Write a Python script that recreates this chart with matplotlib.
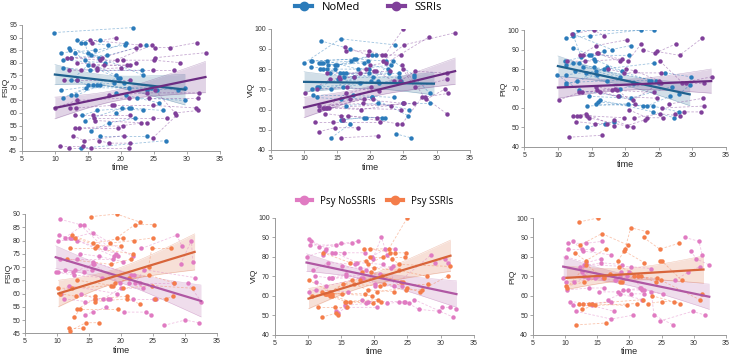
import numpy as np
import matplotlib
matplotlib.use("Agg")
from matplotlib import pyplot as plt

plt.rcParams["font.family"] = ["Liberation Sans", "DejaVu Sans"]

# ---- subject trajectories: lists of (time, score) ----
nomed_fsiq = [
    [(9.9, 92), (21.9, 94)], [(11.0, 84), (16.1, 85), (20.6, 87)], [(11.2, 81), (17.6, 80)],
    [(11.2, 78), (15.3, 77), (23.2, 77)], [(11.0, 69), (16.4, 71), (25.4, 69)],
    [(11.2, 66), (14.7, 70), (24.5, 70)], [(12.2, 86), (16.7, 82), (23.8, 87)],
    [(12.3, 85), (15.5, 83), (20.7, 88)], [(12.4, 82), (17.9, 83)], [(13.4, 89), (16.9, 89)],
    [(14.0, 88), (18.0, 87)], [(14.5, 88), (15.0, 84), (23.4, 75)], [(13.0, 84), (14.5, 81), (19.2, 75)],
    [(12.5, 73), (15.0, 79), (19.5, 74)], [(13.3, 73), (15.0, 71), (19.8, 74)],
    [(12.5, 67), (15.8, 71), (18.9, 72)], [(13.2, 67), (16.9, 71), (21.2, 70)],
    [(14.1, 59), (16.4, 61), (21.5, 62)], [(14.5, 57), (20.2, 62), (23.4, 61)],
    [(15.5, 53), (18.2, 56), (22.2, 58)], [(16.9, 51), (23.9, 51)], [(14.0, 46), (26.8, 49)],
    [(19.2, 60), (21.2, 62), (26.3, 61)], [(19.2, 68), (20.8, 67), (25.8, 64)],
    [(20.5, 72), (28.7, 69)], [(22.5, 66), (29.7, 65)], [(24.0, 69), (29.7, 70)],
]
ssri_fsiq = [
    [(10.0, 62), (13.3, 65), (21.2, 66)], [(11.4, 73), (13.3, 73), (21.4, 73)], [(10.8, 47), (14.2, 47)],
    [(12.2, 46), (15.4, 46), (21.2, 46)], [(12.3, 62), (13.2, 62), (18.6, 63)],
    [(12.7, 51), (14.4, 49), (20.4, 51)], [(13.0, 54), (19.6, 54)], [(13.7, 54), (20.3, 55), (23.1, 56)],
    [(13.0, 59), (15.7, 59), (21.3, 59)], [(11.9, 82), (16.9, 81), (20.3, 81)],
    [(12.5, 82), (17.2, 82), (22.3, 86)], [(12.2, 77), (14.0, 77), (20.0, 78)],
    [(13.3, 80), (17.4, 79), (20.9, 79)], [(15.3, 89), (22.9, 87)], [(15.6, 88), (19.3, 90)],
    [(15.8, 79), (21.4, 79), (22.3, 80)], [(16.4, 78), (24.7, 87)], [(16.3, 77), (24.8, 77), (28.0, 77)],
    [(15.9, 58), (24.9, 58), (26.9, 58)], [(16.1, 57), (23.9, 56)], [(16.7, 49), (18.2, 48), (21.4, 48)],
    [(18.2, 67), (24.0, 68), (31.8, 68)], [(18.9, 63), (24.9, 63), (31.4, 62)],
    [(19.4, 81), (25.0, 81), (29.0, 80)], [(24.3, 66), (31.7, 66)], [(25.1, 86), (27.4, 86), (31.5, 88)],
    [(25.2, 82), (32.9, 84)], [(24.8, 50), (28.4, 59)], [(25.2, 69), (28.2, 60), (31.7, 61)],
]
nomed_viq = [
    [(10.0, 83), (15.5, 95), (23.7, 92)], [(11.1, 84), (17.6, 85), (22.3, 84)], [(11.2, 84), (17.9, 85)],
    [(11.1, 81), (14.6, 80), (19.8, 80)], [(11.2, 70), (15.9, 71), (21.1, 74)],
    [(11.3, 67), (17.4, 67), (23.6, 66)], [(12.5, 94), (16.9, 90)], [(12.3, 83), (14.6, 82), (19.6, 84)],
    [(12.6, 83), (14.9, 82), (20.2, 87)], [(12.9, 83), (17.1, 84), (20.9, 87)],
    [(12.4, 80), (15.4, 78), (19.8, 78)], [(12.8, 80), (15.9, 78), (20.4, 76)],
    [(12.0, 71), (15.1, 75), (21.3, 73)], [(12.2, 71), (18.4, 73), (24.6, 74)],
    [(12.0, 66), (15.6, 65), (20.2, 66)], [(13.5, 84), (18.1, 80), (23.1, 82)],
    [(13.6, 82), (19.1, 83), (22.6, 80)], [(13.4, 80), (16.4, 78), (22.8, 78)],
    [(13.9, 78), (16.1, 76), (24.3, 78)], [(14.1, 70), (17.6, 76), (24.3, 76)],
    [(15.5, 55), (19.1, 56), (21.7, 56)], [(15.8, 55), (19.4, 56), (22.2, 56)], [(14.1, 46), (17.0, 53)],
    [(23.8, 48), (26.2, 46)], [(16.3, 62), (21.2, 63), (25.8, 60)], [(20.1, 74), (23.4, 84), (26.6, 77)],
    [(20.2, 66), (25.7, 57)], [(26.6, 76), (29.0, 68)], [(25.0, 63), (29.0, 63)],
]
ssri_viq = [
    [(10.2, 68), (13.9, 75), (17.6, 76)], [(12.0, 70), (16.5, 71), (21.3, 69)],
    [(11.6, 54), (14.4, 54), (21.5, 54)], [(12.2, 49), (14.6, 51), (18.1, 51)],
    [(12.3, 60), (16.9, 65), (20.4, 65)], [(12.3, 62), (18.9, 63), (23.1, 62)],
    [(12.8, 61), (18.6, 60), (25.0, 63)], [(13.0, 61), (19.1, 65), (25.1, 63)],
    [(13.3, 61), (16.4, 68), (20.1, 71)], [(13.5, 61), (24.6, 60)], [(13.8, 61), (26.6, 63)],
    [(13.5, 78), (18.4, 78), (22.9, 79)], [(13.2, 58), (15.6, 57), (21.0, 56)], [(15.5, 46), (21.1, 47)],
    [(15.9, 55), (16.6, 57), (24.1, 53)], [(15.3, 76), (19.4, 80), (20.6, 79)],
    [(15.4, 75), (20.9, 79), (23.5, 74)], [(16.2, 91), (19.6, 87), (24.6, 87)],
    [(16.4, 89), (19.8, 89), (21.8, 87)], [(19.9, 82), (22.4, 83), (28.9, 96)],
    [(21.9, 84), (25.1, 92), (32.8, 98)], [(22.2, 87), (25.0, 100)], [(24.5, 74), (26.7, 79), (31.6, 78)],
    [(24.8, 53), (27.8, 66), (31.8, 68)], [(24.9, 80), (26.7, 71), (31.6, 75)],
    [(24.8, 82), (28.4, 65), (31.2, 70)], [(28.2, 66), (31.5, 58)],
]
nomed_piq = [
    [(9.9, 77), (13.2, 69), (19.1, 66)], [(11.1, 84), (14.6, 87), (20.6, 87)],
    [(11.2, 82), (15.3, 85), (19.6, 79)], [(11.2, 77), (15.7, 79), (21.1, 73)],
    [(11.2, 73), (17.3, 74), (23.5, 74)], [(11.2, 72), (15.8, 77), (21.3, 73)],
    [(11.2, 96), (14.8, 97), (22.3, 100)], [(12.2, 83), (16.8, 80), (24.3, 83)],
    [(12.2, 98), (18.0, 90), (20.8, 92)], [(12.3, 97), (13.5, 86), (16.9, 89)],
    [(12.2, 91), (14.9, 87), (15.5, 84)], [(12.6, 79), (15.3, 81), (19.3, 76)],
    [(12.8, 74), (17.3, 81), (23.9, 74)], [(13.1, 83), (13.8, 81), (24.6, 74)], [(13.0, 100), (24.3, 100)],
    [(14.2, 78), (19.2, 70), (25.1, 73)], [(14.3, 61), (20.4, 62), (22.6, 61)],
    [(14.6, 66), (20.9, 65), (27.0, 71)], [(14.3, 50), (17.0, 52), (18.3, 53)],
    [(15.6, 62), (23.2, 61), (26.7, 66)], [(16.0, 63), (24.1, 61), (28.0, 58)],
    [(16.3, 64), (24.2, 58), (27.3, 55)], [(25.9, 78), (29.8, 76)], [(28.0, 67), (29.7, 72)],
]
ssri_piq = [
    [(10.1, 64), (13.2, 68), (18.0, 69)], [(11.4, 84), (14.1, 84), (19.6, 85)], [(11.6, 45), (16.5, 46)],
    [(12.1, 98), (15.3, 100), (16.9, 97)], [(12.2, 56), (14.3, 56), (19.8, 55)],
    [(12.7, 53), (15.5, 52), (17.3, 52)], [(12.9, 56), (14.2, 57), (18.3, 51)],
    [(13.3, 56), (14.6, 55), (21.2, 50)], [(13.6, 68), (18.5, 70), (21.5, 62)],
    [(13.3, 87), (15.7, 92), (20.3, 95)], [(13.8, 87), (15.8, 88), (19.3, 84)],
    [(15.6, 71), (18.8, 69), (24.3, 68)], [(15.8, 69), (18.9, 66), (24.8, 65)],
    [(16.2, 68), (21.1, 64), (25.3, 73)], [(16.0, 88), (20.4, 84), (22.4, 93)],
    [(17.5, 80), (19.8, 78), (25.3, 78)], [(18.3, 54), (20.3, 51), (23.0, 54)],
    [(20.2, 80), (21.5, 79), (25.0, 74)], [(20.6, 59), (23.3, 55), (25.6, 55)],
    [(21.3, 55), (25.2, 57), (28.2, 56)], [(22.7, 90), (24.4, 88), (27.6, 93)],
    [(24.7, 89), (28.1, 87), (31.5, 96)], [(25.2, 84), (28.5, 73), (32.9, 76)],
    [(27.4, 57), (28.7, 58), (31.3, 58)], [(29.0, 73), (31.8, 73)], [(26.5, 62), (31.6, 65)],
    [(25.5, 60), (31.7, 61)],
]
nossri_fsiq = [
    [(9.8, 68), (12.5, 68), (15.6, 71)], [(10.1, 68), (12.6, 67), (17.0, 66)],
    [(10.1, 80), (13.2, 80), (18.9, 74)], [(10.3, 82), (12.0, 81), (19.2, 75)],
    [(10.5, 88), (13.6, 86), (17.5, 77)], [(10.5, 73), (13.1, 73), (18.7, 73)],
    [(10.6, 60), (11.8, 63), (19.3, 60)], [(11.2, 81), (14.2, 86), (19.6, 74)],
    [(11.1, 58), (14.4, 57), (18.0, 58)], [(11.3, 69), (12.8, 69), (15.4, 69)],
    [(12.4, 81), (15.6, 83), (21.8, 74)], [(13.6, 75), (16.6, 74), (20.3, 72)],
    [(13.8, 60), (16.0, 58), (18.3, 58)], [(14.2, 68), (15.7, 72), (21.6, 67)],
    [(14.4, 52), (15.6, 53), (17.7, 55)], [(15.8, 71), (19.8, 64), (22.0, 67)],
    [(17.2, 58), (20.0, 62), (23.5, 62)], [(20.4, 53), (23.9, 53), (24.7, 52)],
    [(21.2, 64), (22.9, 64), (28.3, 64)], [(21.8, 58), (25.1, 58), (25.4, 58)],
    [(22.2, 64), (23.6, 69), (31.6, 66)], [(23.2, 77), (28.7, 82), (29.5, 78)],
    [(26.7, 48), (30.0, 50), (32.2, 49)], [(29.3, 71), (31.0, 80), (31.2, 72)], [(30.5, 64), (32.5, 57)],
]
pssri_fsiq = [
    [(10.2, 62), (12.4, 62), (18.4, 63)], [(10.4, 60), (12.9, 59), (16.0, 59)],
    [(11.5, 73), (18.4, 71), (21.6, 73)], [(11.8, 47), (14.1, 47)], [(12.1, 46), (14.5, 49), (16.6, 49)],
    [(12.1, 77), (16.0, 77), (21.8, 75)], [(12.3, 82), (15.7, 79), (20.3, 81)],
    [(12.6, 51), (13.6, 54), (19.6, 54)], [(12.8, 81), (16.3, 78), (20.0, 78)],
    [(13.1, 54), (15.9, 58), (21.0, 59)], [(13.2, 65), (18.8, 63), (21.2, 66)],
    [(15.3, 89), (19.3, 90), (22.9, 87)], [(16.0, 57), (21.0, 58), (23.0, 56)],
    [(18.3, 79), (22.0, 80), (25.0, 81)], [(19.0, 64), (24.3, 67), (28.3, 64)],
    [(19.3, 81), (22.2, 86), (25.1, 86)], [(20.3, 62), (24.8, 63), (31.2, 62)],
    [(24.3, 70), (24.8, 77), (27.8, 77)], [(25.3, 58), (27.0, 58), (28.1, 59)],
]
nossri_viq = [
    [(9.8, 80), (12.6, 83), (15.4, 82)], [(10.1, 62), (11.3, 63), (16.1, 62)],
    [(10.2, 89), (12.7, 84), (15.0, 87)], [(10.3, 86), (14.2, 86), (16.6, 87)],
    [(10.5, 88), (11.7, 85), (17.6, 88)], [(10.7, 73), (13.1, 77), (17.1, 76)],
    [(11.1, 70), (13.6, 69), (18.3, 69)], [(11.2, 67), (12.8, 65), (18.0, 69)],
    [(12.3, 81), (13.6, 82), (18.6, 82)], [(13.2, 69), (15.7, 71), (20.1, 66)],
    [(13.7, 69), (15.8, 70), (20.9, 71)], [(14.1, 82), (17.4, 77), (21.4, 76)],
    [(14.3, 52), (15.6, 55), (18.8, 56)], [(14.5, 51), (15.7, 54), (20.4, 54)],
    [(15.2, 75), (17.9, 74), (22.8, 75)], [(18.1, 58), (19.1, 57), (23.7, 57)],
    [(18.7, 73), (20.1, 65), (24.2, 65)], [(19.6, 80), (21.7, 84), (23.1, 84)],
    [(19.8, 79), (21.1, 90), (21.9, 81)], [(22.0, 56), (24.5, 57), (24.7, 57)],
    [(22.5, 74), (23.0, 65), (28.6, 81)], [(25.2, 56), (26.7, 53), (29.7, 52)],
    [(29.2, 77), (30.6, 79), (31.1, 77)], [(30.2, 54), (31.4, 54), (32.4, 53)], [(26.0, 58), (31.9, 49)],
]
pssri_viq = [
    [(10.1, 68), (13.4, 62), (16.7, 68)], [(10.6, 60), (12.6, 61), (15.2, 61)],
    [(11.5, 54), (14.1, 54), (15.9, 54)], [(12.1, 49), (14.3, 51), (14.5, 50)],
    [(12.1, 62), (13.2, 61), (18.6, 61)], [(12.3, 82), (16.3, 77), (18.8, 78)],
    [(12.8, 61), (13.6, 61), (19.7, 60)], [(12.9, 61), (15.3, 66), (20.9, 65)],
    [(13.3, 60), (15.6, 57), (19.8, 56)], [(13.7, 60), (16.4, 57), (21.0, 57)], [(15.7, 57), (20.6, 58)],
    [(17.0, 66), (19.0, 63), (23.0, 62)], [(17.9, 68), (21.2, 70), (24.0, 67)],
    [(18.1, 72), (19.5, 72), (24.3, 67)], [(18.4, 84), (22.2, 84), (25.0, 100)],
    [(19.1, 76), (22.4, 82), (24.8, 82)], [(19.3, 84), (23.1, 82)], [(19.4, 80), (21.4, 80), (24.6, 80)],
    [(19.9, 74), (23.7, 73), (27.9, 70)], [(20.4, 62), (24.9, 64), (26.9, 62)],
    [(22.7, 79), (23.8, 76), (31.5, 75)], [(24.8, 63), (27.2, 63), (31.1, 70)], [(21.5, 66), (28.1, 66)],
]
nossri_piq = [
    [(9.7, 69), (12.9, 70), (15.0, 70)], [(10.2, 80), (13.3, 77), (15.5, 79)],
    [(10.2, 67), (13.6, 69), (17.8, 68)], [(10.3, 63), (13.7, 64), (16.0, 64)],
    [(10.4, 84), (12.6, 84), (14.2, 84)], [(10.5, 87), (13.2, 87), (15.8, 88)],
    [(10.7, 57), (14.1, 56), (17.1, 57)], [(11.2, 88), (12.8, 83), (17.2, 81)],
    [(11.2, 55), (14.1, 55), (17.6, 52)], [(11.3, 67), (14.6, 69), (18.5, 70)],
    [(11.7, 52), (17.2, 48), (20.5, 50)], [(12.3, 75), (15.6, 77), (18.9, 76)],
    [(12.6, 72), (15.9, 69), (18.7, 72)], [(13.0, 76), (20.2, 75), (23.3, 74)],
    [(15.3, 62), (18.2, 62), (21.6, 64)], [(16.7, 58), (18.6, 61), (22.0, 58)],
    [(17.9, 68), (19.6, 70), (21.3, 70)], [(19.0, 63), (20.2, 61), (22.3, 61)],
    [(19.8, 63), (22.0, 63), (25.2, 61)], [(20.0, 72), (21.8, 64), (22.2, 63)],
    [(23.4, 62), (23.8, 50), (26.8, 45)], [(24.7, 47), (29.8, 52), (31.8, 50)],
    [(27.0, 68), (29.1, 72), (30.9, 75)], [(28.6, 90), (30.8, 88), (31.3, 81)],
    [(29.5, 83), (30.4, 79), (32.3, 76)],
]
pssri_piq = [
    [(10.2, 65), (12.9, 67), (16.0, 70)], [(10.3, 64), (13.3, 76), (16.0, 69)],
    [(11.5, 82), (13.2, 78), (16.3, 84)], [(11.7, 45), (16.4, 46)], [(12.1, 56), (13.7, 56), (19.6, 55)],
    [(12.2, 98), (15.1, 100)], [(12.3, 86), (15.7, 92), (19.8, 86)], [(12.6, 53), (14.6, 55), (21.1, 56)],
    [(12.8, 56), (14.1, 56), (22.1, 58)], [(16.9, 71), (18.6, 67), (21.3, 70)],
    [(18.2, 78), (19.2, 83), (22.3, 77)], [(18.4, 75), (21.8, 70), (24.1, 67)],
    [(18.9, 67), (20.7, 70), (24.2, 69)], [(19.3, 84), (20.2, 95), (22.7, 93)],
    [(22.2, 90), (24.7, 84), (27.7, 87)], [(22.9, 56), (25.0, 57), (26.9, 57)],
    [(24.8, 78), (25.0, 78), (28.1, 68)], [(24.9, 68), (30.9, 58), (31.3, 61)], [(23.5, 60), (27.9, 56)],
]

# ---- fitted trend lines: x0, x1, y0, y1, band half-width at start / middle / end ----
fit_nomed_fsiq = (10.0, 29.7, 75.3, 69.3, 4.0, 2.4, 6.1)
fit_ssri_fsiq = (10.0, 32.8, 62.0, 74.3, 4.3, 2.4, 6.2)
fit_nomed_viq = (10.0, 29.6, 73.7, 72.8, 5.0, 2.8, 5.6)
fit_ssri_viq = (10.0, 32.8, 61.0, 79.0, 5.0, 2.8, 6.5)
fit_nomed_piq = (10.0, 29.6, 81.5, 67.0, 5.2, 2.6, 5.8)
fit_ssri_piq = (10.0, 32.8, 70.5, 73.8, 5.5, 2.8, 6.2)
fit_nossri_fsiq = (9.8, 32.5, 73.7, 57.2, 4.3, 2.4, 6.0)
fit_pssri_fsiq = (10.2, 31.5, 60.0, 75.7, 5.0, 2.8, 6.8)
fit_nossri_viq = (9.8, 32.4, 77.0, 60.8, 4.5, 2.6, 6.8)
fit_pssri_viq = (10.1, 31.5, 58.5, 80.5, 5.2, 3.0, 8.0)
fit_nossri_piq = (9.7, 32.4, 75.0, 59.5, 5.0, 2.8, 6.5)
fit_pssri_piq = (10.2, 31.5, 69.2, 73.5, 6.0, 3.2, 7.0)

BLUE, BLUE_D = "#2b7bba", "#20628f"
PURPLE, PURPLE_D = "#80409a", "#6b2c82"
PINK, PINK_D = "#e07bc2", "#b057a3"
ORANGE, ORANGE_D = "#f47d4a", "#d8653a"

panels = [
    # rect (fig fraction), ylabel, ylim, ystep, groups
    ([0.0300, 0.5767, 0.2718, 0.3531], "FSIQ", (45, 95), 5,
     [(nomed_fsiq, fit_nomed_fsiq, BLUE, BLUE_D), (ssri_fsiq, fit_ssri_fsiq, PURPLE, PURPLE_D)]),
    ([0.3717, 0.5787, 0.2726, 0.3407], "VIQ", (40, 100), 10,
     [(nomed_viq, fit_nomed_viq, BLUE, BLUE_D), (ssri_viq, fit_ssri_viq, PURPLE, PURPLE_D)]),
    ([0.7192, 0.5871, 0.2767, 0.3286], "PIQ", (40, 100), 10,
     [(nomed_piq, fit_nomed_piq, BLUE, BLUE_D), (ssri_piq, fit_ssri_piq, PURPLE, PURPLE_D)]),
    ([0.0343, 0.0637, 0.2634, 0.3352], "FSIQ", (45, 90), 5,
     [(nossri_fsiq, fit_nossri_fsiq, PINK, PINK_D), (pssri_fsiq, fit_pssri_fsiq, ORANGE, ORANGE_D)]),
    ([0.3768, 0.0600, 0.2730, 0.3285], "VIQ", (40, 100), 10,
     [(nossri_viq, fit_nossri_viq, PINK, PINK_D), (pssri_viq, fit_pssri_viq, ORANGE, ORANGE_D)]),
    ([0.7311, 0.0600, 0.2648, 0.3276], "PIQ", (40, 100), 10,
     [(nossri_piq, fit_nossri_piq, PINK, PINK_D), (pssri_piq, fit_pssri_piq, ORANGE, ORANGE_D)]),
]


def draw_group(ax, subjects, fit, col, dcol):
    for s in subjects:
        t = [p[0] for p in s]
        v = [p[1] for p in s]
        ax.plot(t, v, "--", color=col, lw=0.6, alpha=0.45, dashes=(3, 2), zorder=2)
        ax.plot(t, v, "o", color=col, ms=3.2, mec="none", zorder=3)
    x0, x1, y0, y1, h0, hm, h1 = fit
    xs = np.linspace(x0, x1, 80)
    ys = y0 + (y1 - y0) * (xs - x0) / (x1 - x0)
    # half-width squared of a regression band is quadratic in x
    cf = np.polyfit([x0, (x0 + x1) / 2, x1], [h0 ** 2, hm ** 2, h1 ** 2], 2)
    hw = np.sqrt(np.clip(np.polyval(cf, xs), 0.1, None))
    ax.fill_between(xs, ys - hw, ys + hw, color=dcol, alpha=0.2, lw=0, zorder=1)
    ax.plot(xs, ys - hw, color=dcol, lw=0.4, alpha=0.35, zorder=1)
    ax.plot(xs, ys + hw, color=dcol, lw=0.4, alpha=0.35, zorder=1)
    ax.plot(xs, ys, color=dcol, lw=1.6, zorder=4)


fig = plt.figure(figsize=(7.29, 3.56), dpi=100)
for rect, ylab, ylim, ystep, groups in panels:
    ax = fig.add_axes(rect)
    for subjects, fit, col, dcol in groups:
        draw_group(ax, subjects, fit, col, dcol)
    ax.set_xlim(5, 35)
    ax.set_ylim(*ylim)
    ax.set_xticks(range(5, 36, 5))
    ax.set_yticks(range(ylim[0], ylim[1] + 1, ystep))
    for side in ("top", "right"):
        ax.spines[side].set_visible(False)
    for side in ("left", "bottom"):
        ax.spines[side].set_color("#999999")
        ax.spines[side].set_linewidth(0.7)
    ax.tick_params(labelsize=5, length=2, width=0.6, color="#999999", labelcolor="#333333", pad=1.5)
    ax.set_xlabel("time", fontsize=6.5, labelpad=0.5, color="#222222")
    ax.set_ylabel(ylab, fontsize=6, labelpad=0, color="#222222")

top_handles = [
    plt.Line2D([], [], color=BLUE, lw=3, marker="o", ms=6, label="NoMed"),
    plt.Line2D([], [], color=PURPLE, lw=3, marker="o", ms=6, label="SSRIs"),
]
bot_handles = [
    plt.Line2D([], [], color=PINK, lw=3, marker="o", ms=6, label="Psy NoSSRIs"),
    plt.Line2D([], [], color=ORANGE, lw=3, marker="o", ms=6, label="Psy SSRIs"),
]
fig.legend(handles=top_handles, loc="center", bbox_to_anchor=(0.505, 0.978), ncol=2, frameon=False,
           handlelength=1.6, columnspacing=2.5, prop={"family": "Open Sans", "size": 8})
fig.legend(handles=bot_handles, loc="center", bbox_to_anchor=(0.514, 0.435), ncol=2, frameon=False,
           handlelength=1.6, columnspacing=1.2, prop={"family": "Open Sans", "size": 7})

fig.savefig("out.png", dpi=100)
